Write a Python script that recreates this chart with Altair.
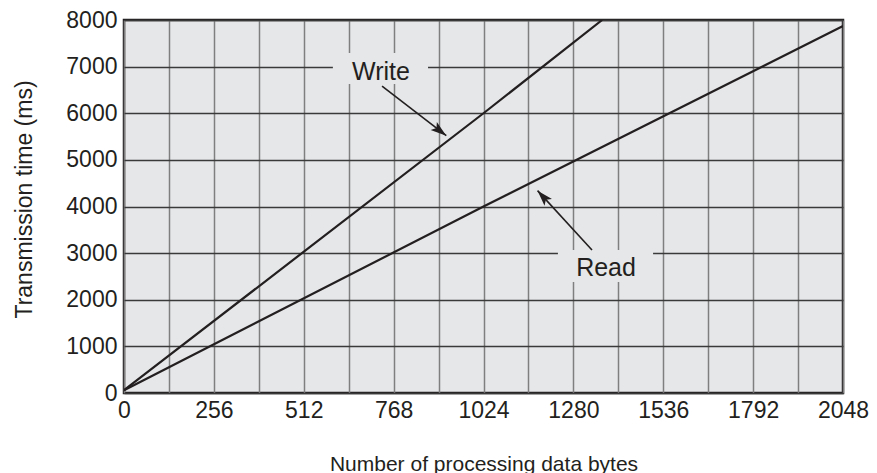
import altair as alt
import pandas as pd

# --- data ---
write_bytes = [0, 1024, 1362]
write_ms = [60, 6000, 8000]
read_bytes = [0, 1024, 2048]
read_ms = [60, 4000, 7870]

x_ticks = list(range(0, 2049, 128))
y_ticks = list(range(0, 8001, 1000))

# annotations (data coordinates)
label_text = ["Write", "Read"]
label_x = [732, 1373]
label_y = [6885, 2681]
box_x1 = [595, 1236]
box_x2 = [866, 1507]
box_y1 = [6627, 2381]
box_y2 = [7292, 3067]
arrow_x1 = [735, 1333]
arrow_y1 = [6584, 3067]
arrow_x2 = [918, 1178]
arrow_y2 = [5520, 4340]
arrow_angle = [127.6, 317.5]

lines = pd.DataFrame(
    {"bytes": write_bytes + read_bytes,
     "ms": write_ms + read_ms,
     "series": ["Write"] * len(write_bytes) + ["Read"] * len(read_bytes)}
)
ann = pd.DataFrame({
    "label": label_text, "lx": label_x, "ly": label_y,
    "bx1": box_x1, "bx2": box_x2, "by1": box_y1, "by2": box_y2,
    "ax1": arrow_x1, "ay1": arrow_y1, "ax2": arrow_x2, "ay2": arrow_y2,
    "angle": arrow_angle,
})

INK = "#231f20"
BG = "#e6e7e8"
FONT = "Liberation Sans"

xscale = alt.Scale(domain=[0, 2048], nice=False, zero=False)
yscale = alt.Scale(domain=[0, 8000], nice=False, zero=False)

x_axis = alt.Axis(
    values=x_ticks,
    labelExpr="datum.value % 256 == 0 ? datum.label : ''",
    format="d",
    grid=True, gridColor="#7f7f7f", gridWidth=1.5,
    ticks=False, domain=False,
    labelFontSize=23, labelColor=INK, labelFont=FONT, labelPadding=6,
    labelFlush=False,
    title="Number of processing data bytes",
    titleFontSize=21, titleFont=FONT, titleColor=INK,
    titleFontWeight="normal", titlePadding=31,
)
y_axis = alt.Axis(
    values=y_ticks,
    format="d",
    grid=True, gridColor="#3a3a3a", gridWidth=1.3,
    ticks=False, domain=False,
    labelFontSize=23, labelColor=INK, labelFont=FONT, labelPadding=7,
    labelFlush=False,
    title="Transmission time (ms)",
    titleFontSize=23, titleFont=FONT, titleColor=INK,
    titleFontWeight="normal", titlePadding=29, titleY=179,
)

base_x = alt.X("bytes:Q", scale=xscale, axis=x_axis)
base_y = alt.Y("ms:Q", scale=yscale, axis=y_axis)

line_layer = alt.Chart(lines).mark_line(color=INK, strokeWidth=2.2, clip=True).encode(
    x=base_x, y=base_y, detail="series:N"
)

boxes = alt.Chart(ann).mark_rect(color=BG).encode(
    x=alt.X("bx1:Q", scale=xscale), x2="bx2:Q",
    y=alt.Y("by1:Q", scale=yscale), y2="by2:Q",
)

arrow_lines = alt.Chart(ann).mark_rule(color=INK, strokeWidth=1.6).encode(
    x=alt.X("ax1:Q", scale=xscale), x2="ax2:Q",
    y=alt.Y("ay1:Q", scale=yscale), y2="ay2:Q",
)

arrow_heads = alt.Chart(ann).mark_point(
    shape="M0,0 L0.32,1 L0,0.78 L-0.32,1 Z",
    filled=True, color=INK, opacity=1, size=1000, strokeWidth=0,
).encode(
    x=alt.X("ax2:Q", scale=xscale),
    y=alt.Y("ay2:Q", scale=yscale),
    angle=alt.Angle("angle:Q", scale=None),
)

texts = alt.Chart(ann).mark_text(
    font=FONT, fontSize=25, color=INK, baseline="middle", align="center"
).encode(
    x=alt.X("lx:Q", scale=xscale),
    y=alt.Y("ly:Q", scale=yscale),
    text="label:N",
)

chart = alt.layer(line_layer, boxes, arrow_lines, arrow_heads, texts).properties(
    width=719, height=373,
    autosize=alt.AutoSizeParams(type="none"),
    padding={"left": 116, "top": 12, "right": 26, "bottom": 80},
    background="white",
).configure_view(
    fill=BG, stroke=INK, strokeWidth=2.5
).configure_axis(
    labelFont=FONT, titleFont=FONT
)

chart.save("out.html", embed_options={"renderer": "svg", "actions": False})
